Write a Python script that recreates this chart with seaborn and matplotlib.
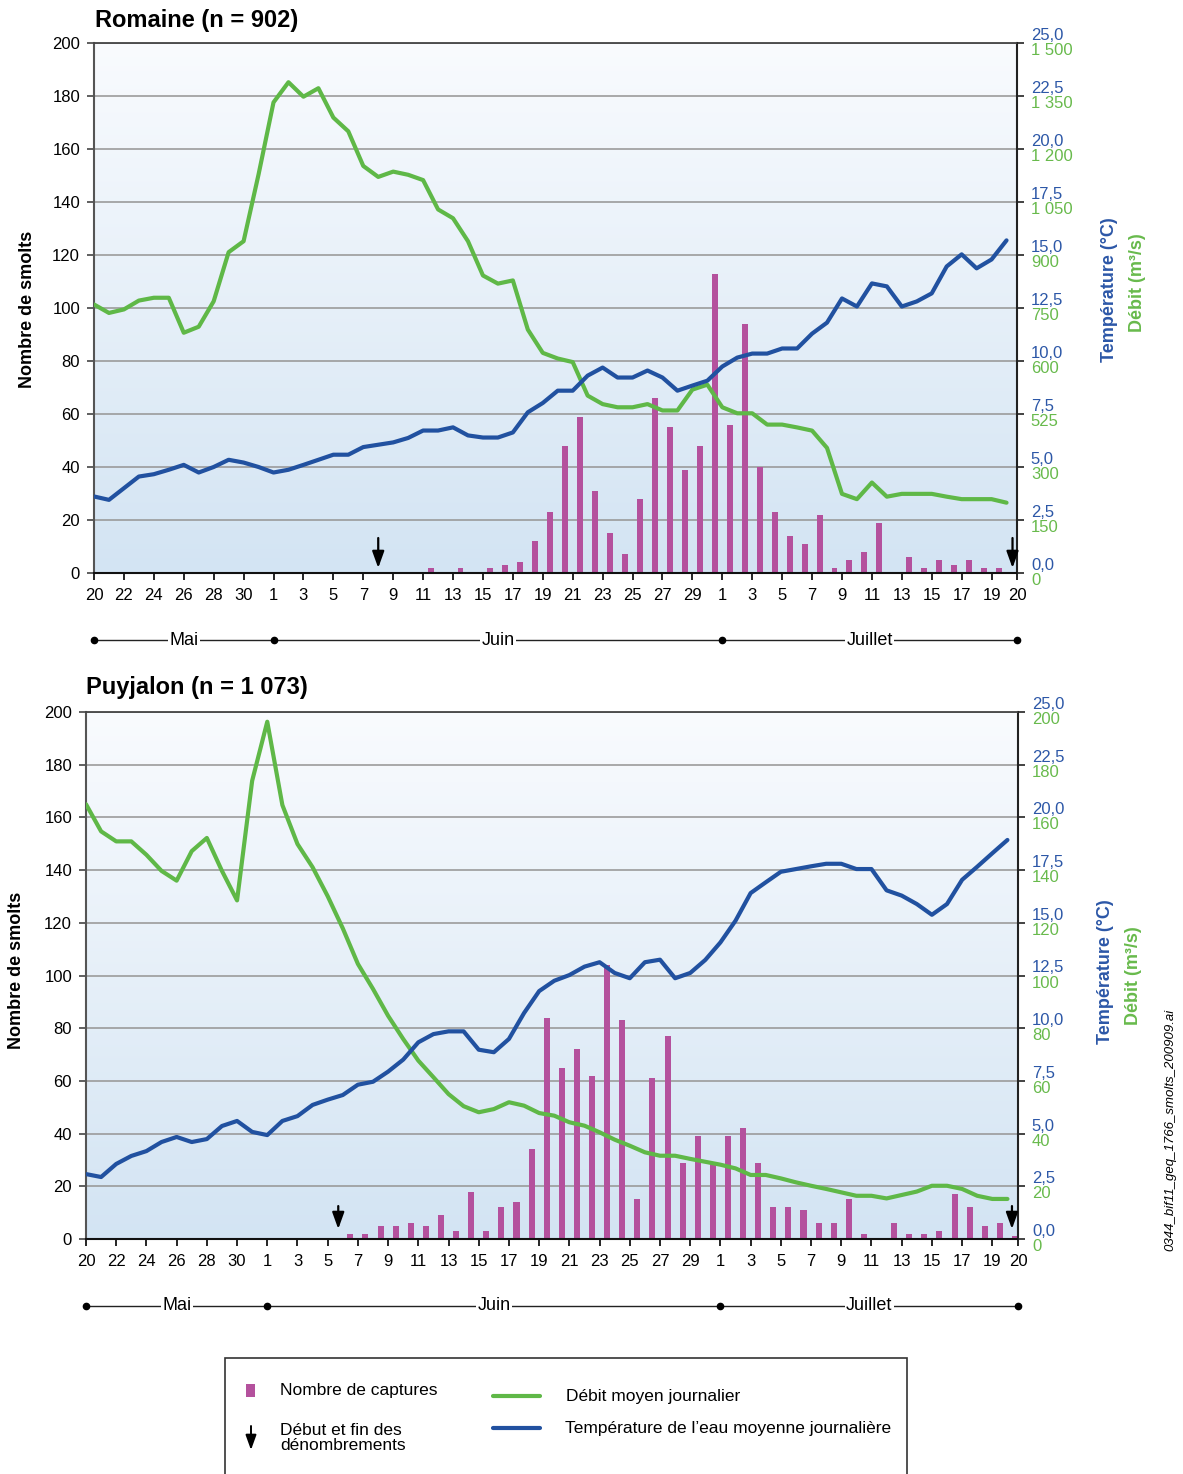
import numpy as np
import matplotlib
matplotlib.use("Agg")
import matplotlib.pyplot as plt
import matplotlib.transforms as mtrans
from matplotlib.colors import LinearSegmentedColormap
from matplotlib.patches import Rectangle, FancyArrowPatch
from matplotlib.lines import Line2D
import seaborn as sns

# ---------------- data (day index 0 = 20 mai ... 61 = 20 juillet) ----------------
tick_days = [0, 2, 4, 6, 8, 10, 12, 14, 16, 18, 20, 22, 24, 26, 28, 30, 32, 34, 36, 38, 40,
             42, 44, 46, 48, 50, 52, 54, 56, 58, 60, 61.7]
tick_labels = ["20", "22", "24", "26", "28", "30", "1", "3", "5", "7", "9", "11", "13", "15",
               "17", "19", "21", "23", "25", "27", "29", "1", "3", "5", "7", "9", "11", "13",
               "15", "17", "19", "20"]
month_names = ["Mai", "Juin", "Juillet"]
month_bounds = [0, 12, 42, 61.7]

romaine_captures = [0, 0, 0, 0, 0, 0, 0, 0, 0, 0,
                    0, 0, 0, 0, 0, 0, 0, 0, 0, 0,
                    0, 0, 2, 0, 2, 0, 2, 3, 4, 12,
                    23, 48, 59, 31, 15, 7, 28, 66, 55, 39,
                    48, 113, 56, 94, 40, 23, 14, 11, 22, 2,
                    5, 8, 19, 0, 6, 2, 5, 3, 5, 2,
                    2, 0]
romaine_temp = [3.61, 3.45, 4.00, 4.55, 4.66, 4.87, 5.10, 4.74, 5.00, 5.34,
                5.21, 5.00, 4.74, 4.87, 5.10, 5.34, 5.58, 5.58, 5.94, 6.05,
                6.16, 6.37, 6.72, 6.72, 6.87, 6.49, 6.39, 6.39, 6.63, 7.58,
                8.02, 8.60, 8.60, 9.31, 9.69, 9.22, 9.22, 9.55, 9.22, 8.60,
                8.84, 9.07, 9.74, 10.16, 10.35, 10.35, 10.59, 10.59, 11.29, 11.81,
                12.95, 12.57, 13.66, 13.52, 12.57, 12.81, 13.19, 14.46, 15.03, 14.37,
                14.79, 15.69]
romaine_debit = [760, 736, 746, 771, 779, 779, 680, 697, 769, 908,
                 939, 1128, 1332, 1389, 1348, 1372, 1289, 1250, 1152, 1121,
                 1136, 1127, 1112, 1029, 1004, 939, 842, 819, 828, 689,
                 623, 607, 597, 502, 478, 469, 469, 478, 460, 460,
                 519, 533, 469, 452, 452, 420, 420, 412, 403, 354,
                 224, 209, 256, 216, 224, 224, 224, 216, 209, 209,
                 209, 199]
romaine_arrows = [19, 61.4]

puyjalon_captures = [0, 0, 0, 0, 0, 0, 0, 0, 0, 0,
                     0, 0, 0, 0, 0, 0, 0, 2, 2, 5,
                     5, 6, 5, 9, 3, 18, 3, 12, 14, 34,
                     84, 65, 72, 62, 104, 83, 15, 61, 77, 29,
                     39, 29, 39, 42, 29, 12, 12, 11, 6, 6,
                     15, 2, 0, 6, 2, 2, 3, 17, 12, 5,
                     6, 1]
puyjalon_temp = [3.08, 2.94, 3.56, 3.94, 4.17, 4.60, 4.84, 4.60, 4.74, 5.36,
                 5.60, 5.08, 4.93, 5.60, 5.83, 6.36, 6.61, 6.83, 7.32, 7.46,
                 7.94, 8.51, 9.33, 9.72, 9.85, 9.85, 8.98, 8.86, 9.49, 10.72,
                 11.76, 12.25, 12.52, 12.92, 13.13, 12.62, 12.37, 13.13, 13.25, 12.37,
                 12.62, 13.24, 14.07, 15.10, 16.41, 16.92, 17.42, 17.55, 17.68, 17.80,
                 17.80, 17.55, 17.55, 16.54, 16.29, 15.89, 15.38, 15.89, 17.04, 17.66,
                 18.30, 18.93]
puyjalon_debit = [165.0, 154.7, 150.9, 150.9, 145.8, 139.7, 136.0, 147.2, 152.2, 139.7,
                  128.5, 173.9, 196.3, 164.7, 149.9, 141.1, 130.1, 117.9, 104.4, 94.9,
                  84.7, 75.9, 67.7, 61.4, 55.0, 50.4, 48.1, 49.3, 51.9, 50.6,
                  47.8, 46.8, 44.3, 43.0, 40.5, 37.7, 35.4, 32.9, 31.6, 31.6,
                  30.4, 29.3, 28.2, 26.8, 24.3, 24.3, 23.0, 21.5, 20.2, 19.0,
                  17.7, 16.4, 16.4, 15.4, 16.7, 18.0, 20.2, 20.2, 19.0, 16.4,
                  15.2, 15.2]
puyjalon_arrows = [16.7, 61.3]

count_ticks = [0, 20, 40, 60, 80, 100, 120, 140, 160, 180, 200]
temp_ticks = [0, 2.5, 5, 7.5, 10, 12.5, 15, 17.5, 20, 22.5, 25]
temp_labels = ["0,0", "2,5", "5,0", "7,5", "10,0", "12,5", "15,0", "17,5", "20,0", "22,5", "25,0"]
romaine_debit_ticks = [0, 150, 300, 450, 600, 750, 900, 1050, 1200, 1350, 1500]
romaine_debit_labels = ["0", "150", "300", "525", "600", "750", "900", "1 050", "1 200", "1 350", "1 500"]
puyjalon_debit_ticks = [0, 20, 40, 60, 80, 100, 120, 140, 160, 180, 200]
puyjalon_debit_labels = ["0", "20", "40", "60", "80", "100", "120", "140", "160", "180", "200"]

# ---------------- style ----------------
sns.set_theme(style="white")
plt.rcParams["font.family"] = ["Liberation Sans", "DejaVu Sans"]
plt.rcParams["text.color"] = "black"
plt.rcParams["axes.labelcolor"] = "black"
plt.rcParams["xtick.color"] = "black"
plt.rcParams["ytick.color"] = "black"

MAG = "#b4519d"
GREEN = "#5fb847"
BLUE = "#2151a0"
LBL_BLUE = "#2c57a7"
LBL_GREEN = "#68ba4c"
W, H = 1183, 1474
TICK_FS = 12

fig = plt.figure(figsize=(W / 100, H / 100), dpi=100)


def px_rect(l, t, r, b):
    return [l / W, 1 - b / H, (r - l) / W, (b - t) / H]


def fxy(x, y):
    return (x / W, 1 - y / H)


bg_cmap = LinearSegmentedColormap.from_list("bg", ["#d3e4f3", "#f9fbfe"])


def draw_panel(ax, captures, temp, debit, dmax, dticks, dlabels, arrows, arrow_y):
    days = np.arange(len(captures))
    grad = np.linspace(0, 1, 256).reshape(-1, 1)
    ax.imshow(grad, extent=[0, 1, 0, 1], transform=ax.transAxes, origin="lower",
              cmap=bg_cmap, aspect="auto", zorder=0)

    sns.barplot(x=days + 0.5, y=captures, native_scale=True, width=0.4, color=MAG,
                saturation=1, errorbar=None, linewidth=0, ax=ax)

    axd = ax.twinx()
    axt = ax.twinx()
    sns.lineplot(x=days, y=debit, color=GREEN, lw=3, ax=axd)
    sns.lineplot(x=days, y=temp, color=BLUE, lw=3, ax=axt)

    ax.set_ylim(0, 200)
    ax.set_yticks(count_ticks)
    ax.grid(axis="y", color="#9b9b9b", lw=1.2)
    ax.grid(axis="x", visible=False)
    ax.set_axisbelow(True)
    ax.set_xticks(tick_days, tick_labels)
    ax.set_xlim(0, 61.7)
    ax.set_xlabel("")
    ax.set_ylabel("")
    ax.tick_params(axis="y", left=True, direction="out", length=5, width=1.2,
                   color="#444", pad=5, labelsize=TICK_FS, labelcolor="black")
    ax.tick_params(axis="x", bottom=True, direction="out", length=5, width=1.2,
                   color="black", pad=6, labelsize=TICK_FS, labelcolor="black")
    for side, col, lw in [("left", "#555", 1.5), ("top", "#444", 1.3),
                          ("bottom", "#111", 1.5), ("right", "#222", 1.5)]:
        ax.spines[side].set_visible(True)
        ax.spines[side].set_color(col)
        ax.spines[side].set_linewidth(lw)

    axt.set_ylim(0, 25)
    axt.set_yticks(temp_ticks, temp_labels)
    axt.tick_params(axis="y", right=True, direction="out", length=5, width=1.2,
                    color="#222", pad=5, labelsize=TICK_FS, labelcolor=LBL_BLUE)
    for lab in axt.get_yticklabels():
        lab.set_va("bottom")
    axd.set_ylim(0, dmax)
    axd.set_yticks(dticks, dlabels)
    axd.tick_params(axis="y", right=True, length=0, pad=10, labelsize=TICK_FS,
                    labelcolor=LBL_GREEN)
    for lab in axd.get_yticklabels():
        lab.set_va("top")
    for a in (axt, axd):
        a.set_ylabel("")
        a.set_xlabel("")
        for s in a.spines.values():
            s.set_visible(False)
    axt.set_xlim(0, 61.7)

    for xa in arrows:
        ax.annotate("", xy=(xa, arrow_y[1]), xytext=(xa, arrow_y[0]),
                    arrowprops=dict(arrowstyle="-|>,head_length=0.5,head_width=0.18",
                                    color="black", lw=1.6, shrinkA=0, shrinkB=0,
                                    mutation_scale=20), zorder=5)

    trans = mtrans.blended_transform_factory(ax.transData, ax.transAxes)
    ym = -0.127
    ax.plot([month_bounds[0], month_bounds[-1]], [ym, ym], transform=trans,
            color="#222", lw=1, clip_on=False, zorder=3)
    ax.plot(month_bounds, [ym] * len(month_bounds), "o", ms=4.5, color="black",
            transform=trans, clip_on=False, zorder=4)
    for name, a, b in zip(month_names, month_bounds[:-1], month_bounds[1:]):
        ax.text((a + b) / 2, ym, name, transform=trans, ha="center", va="center",
                fontsize=13, zorder=5,
                bbox=dict(facecolor="white", edgecolor="none", pad=1.0))


ax1 = fig.add_axes(px_rect(94, 43, 1017, 573))
draw_panel(ax1, romaine_captures, romaine_temp, romaine_debit, 1500,
           romaine_debit_ticks, romaine_debit_labels, romaine_arrows, (13.2, 1.9))

ax2 = fig.add_axes(px_rect(86, 712, 1018, 1239))
draw_panel(ax2, puyjalon_captures, puyjalon_temp, puyjalon_debit, 200,
           puyjalon_debit_ticks, puyjalon_debit_labels, puyjalon_arrows, (12.5, 3.8))

# titles and axis labels
fig.text(*fxy(95, 20), "Romaine (n = 902)", fontsize=17, fontweight="bold", va="center", ha="left")
fig.text(*fxy(86, 687), "Puyjalon (n = 1 073)", fontsize=17, fontweight="bold", va="center", ha="left")
fig.text(*fxy(28, 309), "Nombre de smolts", rotation=90, fontsize=13, fontweight="bold",
         ha="center", va="center")
fig.text(*fxy(17, 970), "Nombre de smolts", rotation=90, fontsize=13, fontweight="bold",
         ha="center", va="center")
fig.text(*fxy(1110, 290), "Température (°C)", rotation=90, fontsize=13, fontweight="bold",
         color=LBL_BLUE, ha="center", va="center")
fig.text(*fxy(1138, 283), "Débit (m³/s)", rotation=90, fontsize=13, fontweight="bold",
         color=LBL_GREEN, ha="center", va="center")
fig.text(*fxy(1105, 972), "Température (°C)", rotation=90, fontsize=13, fontweight="bold",
         color=LBL_BLUE, ha="center", va="center")
fig.text(*fxy(1134, 976), "Débit (m³/s)", rotation=90, fontsize=13, fontweight="bold",
         color=LBL_GREEN, ha="center", va="center")
fig.text(*fxy(1170, 1130), "0344_bif11_geq_1766_smolts_200909.ai", rotation=90,
         fontsize=9.5, style="italic", ha="center", va="center")

# legend box
fig.add_artist(Rectangle(fxy(225, 1490), (907 - 225) / W, (1490 - 1358) / H,
                         transform=fig.transFigure, fill=False, edgecolor="#333", lw=1.2))
fig.add_artist(Rectangle(fxy(246, 1397), 9 / W, 13 / H, transform=fig.transFigure,
                         facecolor=MAG, edgecolor="none"))
fig.text(*fxy(280, 1391), "Nombre de captures", fontsize=12.5, va="center", ha="left")
fig.add_artist(FancyArrowPatch(fxy(251, 1426), fxy(251, 1450), transform=fig.transFigure,
                               arrowstyle="-|>,head_length=0.5,head_width=0.18",
                               mutation_scale=18, color="black", lw=1.4,
                               shrinkA=0, shrinkB=0))
fig.text(*fxy(280, 1438), "Début et fin des\ndénombrements", fontsize=12.5, va="center",
         ha="left", linespacing=1.05)
fig.add_artist(Line2D([493 / W, 540 / W], [1 - 1396 / H] * 2, transform=fig.transFigure,
                      color=GREEN, lw=3))
fig.text(*fxy(566, 1396), "Débit moyen journalier", fontsize=12.5, va="center", ha="left")
fig.add_artist(Line2D([493 / W, 540 / W], [1 - 1428 / H] * 2, transform=fig.transFigure,
                      color=BLUE, lw=3))
fig.text(*fxy(565, 1428), "Température de l’eau moyenne journalière", fontsize=12.5,
         va="center", ha="left")

fig.savefig("out.png", dpi=100)
